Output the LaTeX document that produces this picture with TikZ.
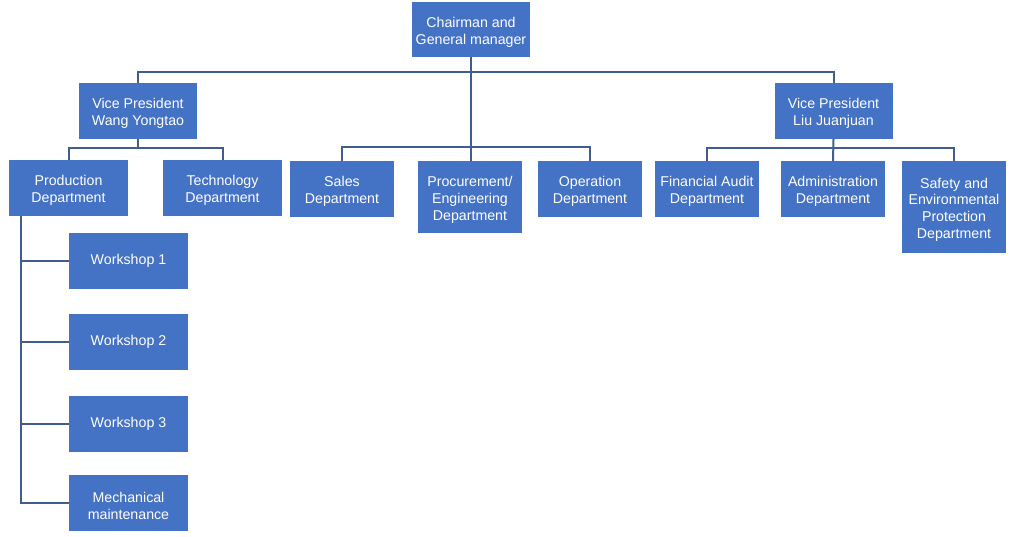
\documentclass[tikz,border=0pt]{standalone}
\usepackage{fontspec}
\setmainfont{Liberation Sans}
\definecolor{boxfill}{HTML}{4472C4}
\definecolor{linecol}{HTML}{3F5D8F}
\newcommand{\fls}{\rule{0pt}{15.5pt}}
\begin{document}
\begin{tikzpicture}[x=1pt,y=-1pt,
  box/.style={fill=boxfill, draw=none, text=white, align=center, inner sep=1pt,
    font=\fontsize{14.2}{16.8}\selectfont},
  conn/.style={draw=linecol, line width=2pt}]
\useasboundingbox (0,0) rectangle (1018,537);
% nodes
\node[box, minimum width=118pt, minimum height=55pt] (chair) at (471,29.5) {\fls Chairman and\\General manager};
\node[box, minimum width=118pt, minimum height=56pt] (vpw) at (138,111) {\fls Vice President\\Wang Yongtao};
\node[box, minimum width=118pt, minimum height=56pt] (vpl) at (833.5,111) {\fls Vice President\\Liu Juanjuan};
\node[box, minimum width=119pt, minimum height=56pt] (prod) at (68.5,188) {\fls Production\\Department};
\node[box, minimum width=119pt, minimum height=56pt] (tech) at (222.5,188) {\fls Technology\\Department};
\node[box, minimum width=104pt, minimum height=56pt] (sales) at (342,189) {\fls Sales\\Department};
\node[box, minimum width=104pt, minimum height=72pt] (proc) at (470,197) {\fls Procurement/\\Engineering\\Department};
\node[box, minimum width=104pt, minimum height=56pt] (oper) at (590,189) {\fls Operation\\Department};
\node[box, minimum width=104pt, minimum height=56pt] (fin) at (707,189) {\fls Financial Audit\\Department};
\node[box, minimum width=104pt, minimum height=56pt] (adm) at (833,189) {\fls Administration\\Department};
\node[box, minimum width=104pt, minimum height=92pt] (safe) at (954,207) {\fls Safety and\\Environmental\\Protection\\Department};
\node[box, minimum width=119pt, minimum height=56pt] (ws1) at (128.5,261) {Workshop 1};
\node[box, minimum width=119pt, minimum height=56pt] (ws2) at (128.5,342) {Workshop 2};
\node[box, minimum width=119pt, minimum height=56pt] (ws3) at (128.5,424) {Workshop 3};
\node[box, minimum width=119pt, minimum height=56pt] (mech) at (128.5,503) {\fls Mechanical\\maintenance};
% junction coordinates
\coordinate (top) at (470.5,72);
\coordinate (mid) at (470.5,147);
\coordinate (wj) at (138,148);
\coordinate (lj) at (833,148);
\coordinate (spine) at (21,216);
% connectors
\draw[conn] (chair.south -| top) -- (proc.north -| top);
\draw[conn] (vpw.north) |- (top) -| (vpl.north);
\draw[conn] (sales.north) |- (mid) -| (oper.north);
\draw[conn] (vpw.south) -- (wj);
\draw[conn] (prod.north) |- (wj) -| (tech.north);
\draw[conn] (vpl.south) -- (adm.north);
\draw[conn] (fin.north) |- (lj) -| (safe.north);
\draw[conn] (spine) |- (mech.west);
\draw[conn] (spine |- ws1.west) -- (ws1.west);
\draw[conn] (spine |- ws2.west) -- (ws2.west);
\draw[conn] (spine |- ws3.west) -- (ws3.west);
\end{tikzpicture}
\end{document}
